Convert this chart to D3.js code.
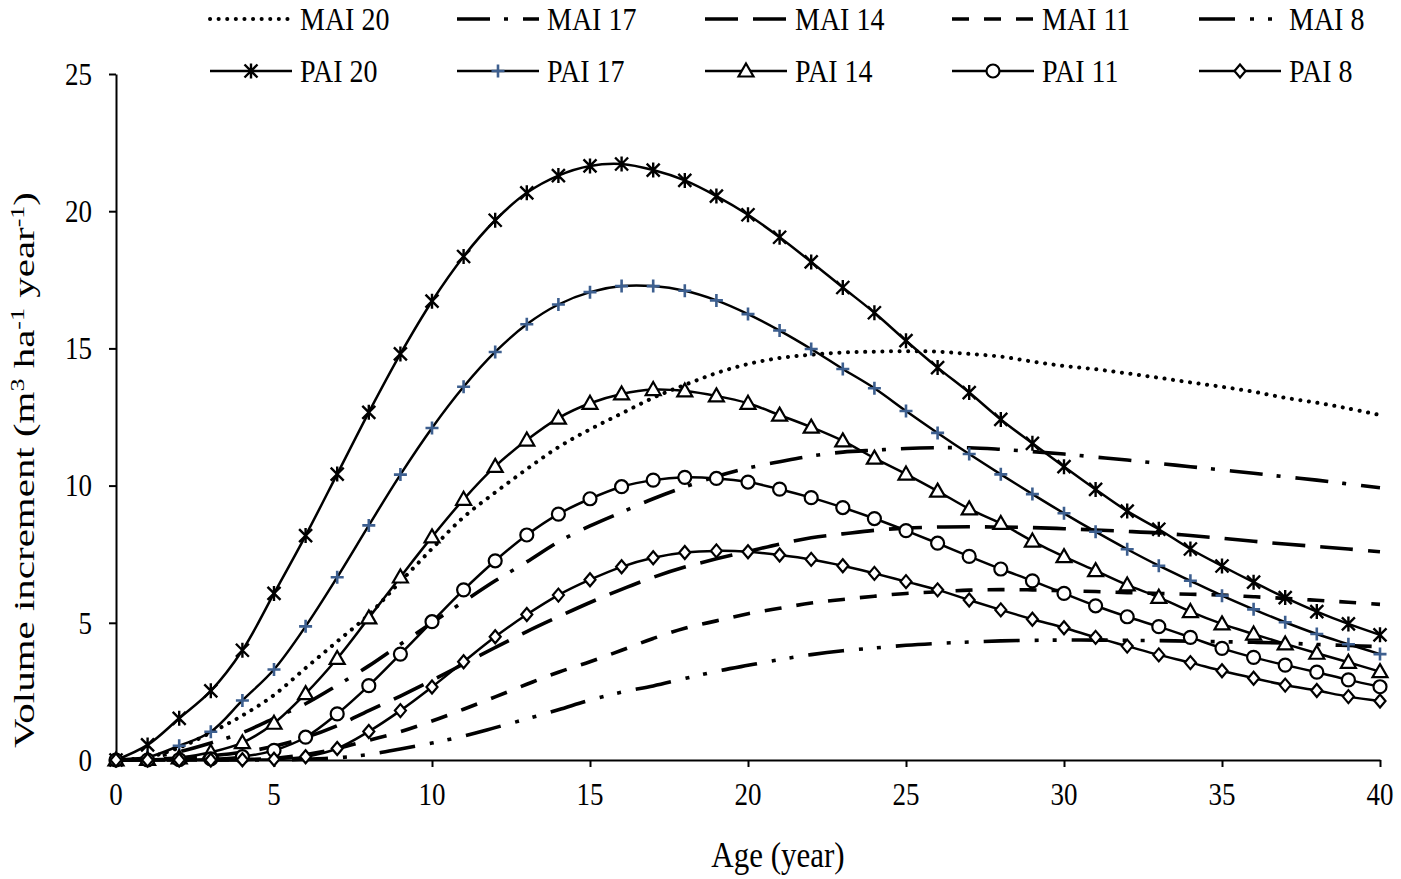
<!DOCTYPE html>
<html>
<head>
<meta charset="utf-8">
<script src="https://cdn.jsdelivr.net/npm/d3@7"></script>
<style>
  body { margin: 0; background: #fff; }
  text { font-family: "Liberation Serif", "Times New Roman", serif; fill: #000; }
</style>
</head>
<body>
<script>
// stand age (year)
var ages = [0,1,2,3,4,5,6,7,8,9,10,11,12,13,14,15,16,17,18,19,20,
            21,22,23,24,25,26,27,28,29,30,31,32,33,34,35,36,37,38,39,40];

// mean annual increment
var mai20 = [0,0.1,0.45,1.0,1.62, 2.37,3.35,4.32,5.3,6.5, 7.7,8.85,9.75,10.6,11.4,
             12.05,12.63,13.2,13.67,14.1, 14.43,14.65,14.77,14.85,14.88, 14.9,14.88,14.8,14.7,14.52,
             14.36,14.24,14.09,13.93,13.76, 13.6,13.42,13.2,13.02,12.81, 12.57];
var mai17 = [0,0.08,0.3,0.62,1.0, 1.52,2.05,2.72,3.43,4.22, 5.0,5.77,6.53,7.22,7.95,
             8.53,9.03,9.52,9.95,10.33, 10.64,10.87,11.08,11.22,11.29, 11.35,11.38,11.38,11.32,11.24,
             11.15,11.04,10.93,10.81,10.69, 10.57,10.45,10.32,10.2,10.06, 9.92];
var mai14 = [0,0.02,0.07,0.15,0.28, 0.5,0.82,1.25,1.8,2.33, 2.9,3.5,4.1,4.68,5.22,
             5.74,6.22,6.66,7.03,7.33, 7.6,7.87,8.1,8.24,8.37, 8.45,8.49,8.5,8.49,8.47,
             8.43,8.38,8.33,8.27,8.18, 8.08,7.97,7.87,7.78,7.69, 7.59];
var mai11 = [0,0,0,0.01,0.02, 0.06,0.2,0.42,0.72,1.03, 1.42,1.85,2.3,2.76,3.2,
             3.58,4.0,4.43,4.8,5.07, 5.33,5.53,5.72,5.85,5.97, 6.07,6.13,6.19,6.21,6.2,
             6.17,6.14,6.1,6.07,6.04, 6.01,5.95,5.89,5.82,5.75, 5.67];
var mai8  = [0,0,0,0,0, 0,0.03,0.08,0.2,0.4, 0.62,0.87,1.18,1.5,1.83,
             2.18,2.47,2.7,2.97,3.23, 3.45,3.66,3.84,3.98,4.08, 4.18,4.25,4.3,4.34,4.36,
             4.37,4.37,4.36,4.35,4.33, 4.31,4.29,4.26,4.21,4.17, 4.13];

// periodic annual increment
var pai20 = [0,0.55,1.52,2.52,4.0, 6.07,8.18,10.42,12.67,14.8, 16.72,18.35,19.67,20.67,21.3,
             21.65,21.72,21.5,21.12,20.55, 19.87,19.05,18.15,17.22,16.3, 15.28,14.3,13.39,12.41,11.54,
             10.69,9.86,9.07,8.41,7.69, 7.07,6.48,5.92,5.41,4.96, 4.56];
var pai17 = [0,0.1,0.52,1.03,2.17, 3.3,4.87,6.66,8.55,10.4, 12.1,13.6,14.87,15.88,16.6,
             17.05,17.27,17.27,17.1,16.75, 16.25,15.65,14.98,14.25,13.55, 12.72,11.92,11.15,10.41,9.69,
             8.99,8.32,7.68,7.08,6.53, 5.99,5.49,5.02,4.59,4.22, 3.86];
var pai14 = [0,0.02,0.08,0.28,0.63, 1.34,2.42,3.7,5.18,6.67, 8.13,9.5,10.7,11.66,12.46,
             13.0,13.34,13.5,13.45,13.27, 13.0,12.57,12.13,11.63,11.0, 10.42,9.8,9.15,8.62,7.98,
             7.41,6.9,6.38,5.93,5.41, 4.96,4.59,4.23,3.89,3.56, 3.22];
var pai11 = [0,0,0.01,0.04,0.12, 0.35,0.83,1.68,2.71,3.86, 5.04,6.2,7.26,8.2,8.96,
             9.52,9.96,10.2,10.3,10.26, 10.13,9.87,9.56,9.2,8.8, 8.36,7.9,7.42,6.96,6.53,
             6.07,5.62,5.22,4.86,4.47, 4.07,3.74,3.46,3.2,2.92, 2.67];
var pai8  = [0,0,0,0,0.01, 0.03,0.12,0.42,1.04,1.8, 2.66,3.58,4.49,5.3,6.01,
             6.57,7.04,7.37,7.56,7.62, 7.59,7.47,7.31,7.08,6.8, 6.5,6.2,5.83,5.47,5.13,
             4.82,4.47,4.15,3.83,3.55, 3.25,2.98,2.73,2.53,2.31, 2.15];

var xTicks = [0,5,10,15,20,25,30,35,40];
var yTicks = [0,5,10,15,20,25];

var maiNames = ["MAI 20","MAI 17","MAI 14","MAI 11","MAI 8"];
var paiNames = ["PAI 20","PAI 17","PAI 14","PAI 11","PAI 8"];

// line styles for the MAI curves (Excel-ish dash types)
var maiDash = ["0.1 8.5", "33 14 4 15", "33 15", "17 15", "36 15 4 14 4 15"];
var maiCap  = ["round", "butt", "butt", "butt", "butt"];
var paiMarker = ["star", "plus", "triangle", "circle", "diamond"];

var maiSeries = [mai20, mai17, mai14, mai11, mai8];
var paiSeries = [pai20, pai17, pai14, pai11, pai8];

var W = 1401, H = 879;
var stretch = 1.15;   // the figure text is a bit taller than wide
var svg = d3.select("body").append("svg").attr("width", W).attr("height", H);

var x = d3.scaleLinear().domain([0, 40]).range([116, 1380]);
var y = d3.scaleLinear().domain([0, 25]).range([760, 74]);

var line = function(vals) {
	return d3.line()
		.x(function(d, i) { return x(ages[i]); })
		.y(function(d) { return y(d); })
		.curve(d3.curveCatmullRom.alpha(0.5))(vals);
};

// text stretched vertically about its own baseline point
function tallText(g, tx, ty, size, str, anchor) {
	return g.append("text")
		.attr("transform", "translate(" + tx + "," + ty + ") scale(1," + stretch + ")")
		.attr("text-anchor", anchor || "start")
		.attr("dy", "0.35em")
		.style("font-size", size + "px")
		.text(str);
}

//markers
var plusBlue = "#3d5f8f";
function drawMarker(g, kind, cx, cy) {
	if (kind == "star") {
		var s = 6.5;
		g.append("path")
			.attr("d", "M" + (cx - s) + "," + (cy - s) + "L" + (cx + s) + "," + (cy + s) +
			           "M" + (cx + s) + "," + (cy - s) + "L" + (cx - s) + "," + (cy + s) +
			           "M" + cx + "," + (cy - s - 1) + "L" + cx + "," + (cy + s + 1))
			.attr("stroke", "#000").attr("stroke-width", 2.4).attr("fill", "none");
	} else if (kind == "plus") {
		var p = 6.5;
		g.append("path")
			.attr("d", "M" + (cx - p) + "," + cy + "L" + (cx + p) + "," + cy +
			           "M" + cx + "," + (cy - p) + "L" + cx + "," + (cy + p))
			.attr("stroke", plusBlue).attr("stroke-width", 2.6).attr("fill", "none");
	} else if (kind == "triangle") {
		g.append("path")
			.attr("d", "M" + cx + "," + (cy - 7.5) + "L" + (cx + 7.5) + "," + (cy + 5.5) +
			           "L" + (cx - 7.5) + "," + (cy + 5.5) + "Z")
			.attr("stroke", "#000").attr("stroke-width", 2.2).attr("fill", "#fff");
	} else if (kind == "circle") {
		g.append("circle").attr("cx", cx).attr("cy", cy).attr("r", 6.5)
			.attr("stroke", "#000").attr("stroke-width", 2.2).attr("fill", "#fff");
	} else if (kind == "diamond") {
		g.append("path")
			.attr("d", "M" + cx + "," + (cy - 6.5) + "L" + (cx + 5.5) + "," + cy +
			           "L" + cx + "," + (cy + 6.5) + "L" + (cx - 5.5) + "," + cy + "Z")
			.attr("stroke", "#000").attr("stroke-width", 2.2).attr("fill", "#fff");
	}
}

// axes (ticks and lines from d3, labels placed by hand so they can be stretched)
var yAxis = svg.append("g")
	.attr("transform", "translate(" + x(0) + ",0)")
	.call(d3.axisLeft(y).tickValues(yTicks).tickSize(7).tickFormat("").tickSizeOuter(0));
var xAxis = svg.append("g")
	.attr("transform", "translate(0," + y(0) + ")")
	.call(d3.axisBottom(x).tickValues(xTicks).tickSize(7).tickFormat("").tickSizeOuter(0));

[xAxis, yAxis].forEach(function(a) {
	a.selectAll("path, line").attr("stroke", "#000").attr("stroke-width", 2);
});

var labels = svg.append("g");
yTicks.forEach(function(t) { tallText(labels, 92, y(t), 27, String(t), "end"); });
xTicks.forEach(function(t) { tallText(labels, x(t), y(0) + 34, 27, String(t), "middle"); });

// MAI curves
var plot = svg.append("g");
maiSeries.forEach(function(vals, k) {
	plot.append("path")
		.attr("d", line(vals))
		.attr("fill", "none")
		.attr("stroke", "#000")
		.attr("stroke-width", k == 0 ? 4 : 3.6)
		.attr("stroke-linecap", maiCap[k])
		.attr("stroke-dasharray", maiDash[k]);
});

// PAI curves with markers
paiSeries.forEach(function(vals, k) {
	plot.append("path")
		.attr("d", line(vals))
		.attr("fill", "none")
		.attr("stroke", "#000")
		.attr("stroke-width", 2.5);
	var mg = plot.append("g");
	vals.forEach(function(v, i) {
		drawMarker(mg, paiMarker[k], x(ages[i]), y(v));
	});
});

// legend
var legX = [210, 457, 705, 952, 1199];
var legLen = 82;
var rowY = [19, 71];
var leg = svg.append("g");
maiNames.forEach(function(name, k) {
	leg.append("line")
		.attr("x1", legX[k]).attr("x2", legX[k] + legLen)
		.attr("y1", rowY[0]).attr("y2", rowY[0])
		.attr("stroke", "#000").attr("stroke-width", k == 0 ? 4 : 3.6)
		.attr("stroke-linecap", maiCap[k])
		.attr("stroke-dasharray", maiDash[k]);
	tallText(leg, legX[k] + legLen + 8, rowY[0], 28, name);
});
paiNames.forEach(function(name, k) {
	leg.append("line")
		.attr("x1", legX[k]).attr("x2", legX[k] + legLen)
		.attr("y1", rowY[1]).attr("y2", rowY[1])
		.attr("stroke", "#000").attr("stroke-width", 2.5);
	drawMarker(leg, paiMarker[k], legX[k] + legLen / 2, rowY[1]);
	tallText(leg, legX[k] + legLen + 8, rowY[1], 28, name);
});

// axis titles
tallText(svg, 778, 855, 31, "Age (year)", "middle");

var yt = svg.append("text")
	.attr("transform", "translate(34,470) rotate(-90)")
	.attr("text-anchor", "middle")
	.attr("textLength", 556)
	.attr("lengthAdjust", "spacingAndGlyphs")
	.style("font-size", "30px");
yt.append("tspan").text("Volume increment (m");
yt.append("tspan").attr("baseline-shift", "super").style("font-size", "19px").text("3");
yt.append("tspan").text(" ha");
yt.append("tspan").attr("baseline-shift", "super").style("font-size", "19px").text("-1");
yt.append("tspan").text(" year");
yt.append("tspan").attr("baseline-shift", "super").style("font-size", "19px").text("-1");
yt.append("tspan").text(")");
</script>
</body>
</html>
